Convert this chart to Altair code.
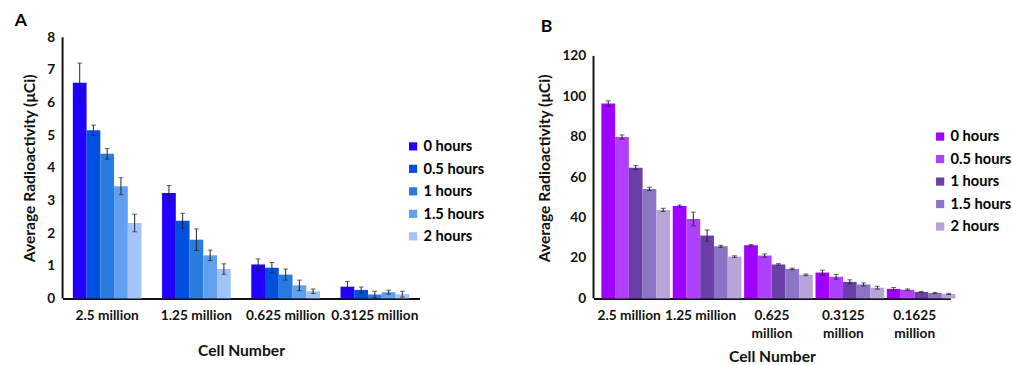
import altair as alt
import pandas as pd

times = ["0 hours", "0.5 hours", "1 hours", "1.5 hours", "2 hours"]

# Panel A
cells_a = ["2.5 million", "1.25 million", "0.625 million", "0.3125 million"]
vals_a = {
    "0 hours":   [6.61, 3.23, 1.04, 0.36],
    "0.5 hours": [5.15, 2.38, 0.94, 0.26],
    "1 hours":   [4.43, 1.80, 0.73, 0.12],
    "1.5 hours": [3.44, 1.32, 0.40, 0.19],
    "2 hours":   [2.31, 0.90, 0.22, 0.13],
}
errs_a = {
    "0 hours":   [0.60, 0.23, 0.17, 0.16],
    "0.5 hours": [0.16, 0.23, 0.16, 0.09],
    "1 hours":   [0.16, 0.33, 0.17, 0.10],
    "1.5 hours": [0.26, 0.16, 0.16, 0.06],
    "2 hours":   [0.27, 0.16, 0.07, 0.09],
}
colors_a = ["#2200ff", "#0050e0", "#2a7be0", "#619ff0", "#a2c4fa"]

# Panel B
cells_b = ["2.5 million", "1.25 million", "0.625 million", "0.3125 million", "0.1625 million"]
vals_b = {
    "0 hours":   [96.4, 45.7, 26.3, 12.8, 4.7],
    "0.5 hours": [79.9, 39.3, 21.2, 10.7, 4.3],
    "1 hours":   [64.7, 31.1, 16.8, 8.2, 3.2],
    "1.5 hours": [54.2, 25.8, 14.6, 6.9, 2.7],
    "2 hours":   [43.8, 20.7, 11.7, 5.3, 2.2],
}
errs_b = {
    "0 hours":   [1.4, 0.5, 0.4, 1.2, 0.7],
    "0.5 hours": [1.0, 3.4, 0.8, 1.2, 0.4],
    "1 hours":   [1.0, 2.8, 0.4, 1.0, 0.3],
    "1.5 hours": [0.8, 0.5, 0.4, 0.8, 0.3],
    "2 hours":   [0.8, 0.4, 0.4, 0.7, 0.3],
}
colors_b = ["#a000ff", "#b040ff", "#6a40a8", "#8c74c4", "#b8a4d8"]

FONT = "Lato"


def make_df(cells, vals, errs):
    rows = []
    for t in times:
        for c, v, e in zip(cells, vals[t], errs[t]):
            rows.append({"cell": c, "time": t, "value": v, "lo": v - e, "hi": v + e})
    return pd.DataFrame(rows)


def panel(df, cells, colors, ymax, ystep, dom_max, w, h, letter, lx, ly, tdx, wrap, pin):
    x = alt.X("cell:N", sort=cells,
              scale=alt.Scale(paddingInner=pin, paddingOuter=pin / 2),
              axis=alt.Axis(title="Cell Number", labelAngle=0, ticks=False,
                            labelPadding=11, titlePadding=20 if not wrap else 9,
                            labelLimit=200, labelLineHeight=18,
                            labelExpr=("length(datum.label) > 12 ? split(datum.label, ' ') : datum.label") if wrap else "datum.label"))
    xo = alt.XOffset("time:N", sort=times, scale=alt.Scale(paddingInner=0, paddingOuter=0))
    y_axis = alt.Axis(title="Average Radioactivity (μCi)", values=list(range(0, ymax + 1, ystep)),
                      ticks=False, grid=False, labelPadding=8, titlePadding=10, labelOverlap=False,
                      domain=False)
    yscale = alt.Scale(domain=[0, dom_max], nice=False)
    base = alt.Chart(df)
    bars = base.mark_bar().encode(
        x=x, xOffset=xo,
        y=alt.Y("value:Q", scale=yscale, axis=y_axis),
        color=alt.Color("time:N", scale=alt.Scale(domain=times, range=colors),
                        legend=alt.Legend(title=None, orient="none", legendX=lx, legendY=ly,
                                          symbolType="square", symbolSize=70, symbolStrokeWidth=0,
                                          labelFontSize=15, labelFont=FONT, labelFontWeight="bold",
                                          rowPadding=7, labelOffset=3)),
    )
    rules = base.mark_rule(color="#222222", strokeWidth=1).encode(
        x=x, xOffset=xo, y=alt.Y("lo:Q", scale=yscale, axis=y_axis), y2="hi:Q")
    cap_hi = base.mark_tick(color="#222222", size=5, thickness=1, orient="horizontal").encode(
        x=x, xOffset=xo, y=alt.Y("hi:Q", scale=yscale, axis=y_axis))
    cap_lo = base.mark_tick(color="#222222", size=5, thickness=1, orient="horizontal").encode(
        x=x, xOffset=xo, y=alt.Y("lo:Q", scale=yscale, axis=y_axis))
    # y-axis line drawn from 0 to the top tick value
    yline = alt.Chart(pd.DataFrame({"y0": [0], "y1": [ymax]})).mark_rule(
        color="#111111", strokeWidth=2).encode(
        x=alt.value(0), y=alt.Y("y0:Q", scale=yscale, axis=y_axis), y2="y1:Q")
    return alt.layer(bars, rules, cap_hi, cap_lo, yline).properties(
        width=w, height=h,
        title=alt.Title(letter, anchor="start", frame="group", dx=tdx, offset=1,
                        fontSize=18, font=FONT, fontWeight="bold"))


df_a = make_df(cells_a, vals_a, errs_a)
df_b = make_df(cells_b, vals_b, errs_b)

chart_a = panel(df_a, cells_a, colors_a, 8, 1, 8, 365, 267, "A", 351, 104, -49, False, 0.23)
chart_b = panel(df_b, cells_b, colors_b, 120, 20, 120 * 267 / 248, 365, 267, "B", 347, 94, -54, True, 0.22)

chart = alt.hconcat(chart_a, chart_b, spacing=52).resolve_scale(
    color="independent"
).properties(
    padding={"left": 15, "top": 8, "right": 0, "bottom": 0}
).configure_view(stroke=None).configure_axis(
    domainColor="#111111", domainWidth=2, labelFont=FONT, titleFont=FONT,
    labelFontWeight="bold", titleFontWeight="bold", labelFontSize=14, titleFontSize=16,
    labelColor="#111111", titleColor="#111111"
)

chart.save("out.html", embed_options={"renderer": "svg", "actions": False})
